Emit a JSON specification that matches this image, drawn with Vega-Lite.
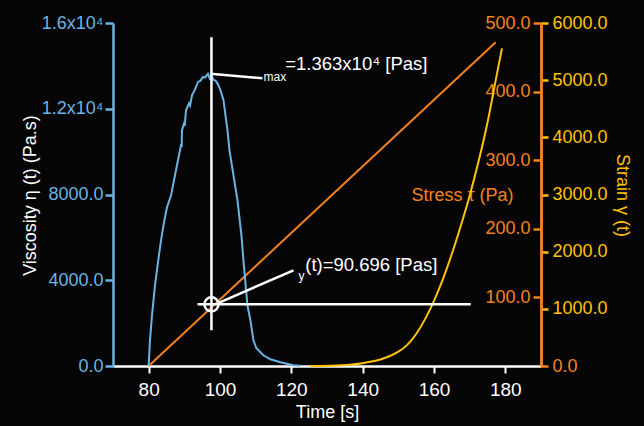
{
  "$schema": "https://vega.github.io/schema/vega-lite/v6.json",
  "width": 428,
  "height": 343,
  "autosize": {"type": "none"},
  "padding": {"left": 113, "top": 23, "right": 103, "bottom": 60},
  "background": "#050505",
  "config": {
    "view": {"stroke": null},
    "font": "Liberation Sans",
    "axis": {"grid": false, "labelFont": "Liberation Sans", "titleFont": "Liberation Sans", "labelFontSize": 18, "titleFontSize": 18, "titleFontWeight": "normal"}
  },
  "encoding": {
    "x": {"field": "t", "type": "quantitative", "scale": {"domain": [70, 190], "nice": false, "zero": false},
      "axis": {"title": "Time [s]", "values": [80, 100, 120, 140, 160, 180], "format": "d", "labelColor": "#ffffff", "tickColor": "#ffffff", "domainColor": "#ffffff", "domainWidth": 2.5, "tickWidth": 2, "tickSize": 7, "labelPadding": 7, "labelFontSize": 19, "titleColor": "#ffffff", "titlePadding": 4}}
  },
  "layer": [
    {
      "data": {"values": [{"t": 80, "s": 0}, {"t": 177.3, "s": 472}]},
      "mark": {"type": "line", "color": "#f5821f", "strokeWidth": 2},
      "encoding": {
        "y": {"field": "s", "type": "quantitative", "scale": {"domain": [0, 500], "nice": false},
          "axis": {"orient": "left", "offset": -428, "title": "Stress τ (Pa)", "values": [100, 200, 300, 400, 500], "format": ".1f", "labelColor": "#f5821f", "tickColor": "#f5821f", "domainColor": "#f5821f", "domainWidth": 2.5, "tickWidth": 2.5, "tickSize": 8, "labelPadding": 3, "titleColor": "#f5821f", "titleAngle": 0, "titleX": -79, "titleY": 172, "titleAlign": "center", "titleBaseline": "middle"}}
      }
    },
    {
      "data": {"values": [
        {"t": 125.2, "g": 0}, {"t": 128, "g": 2}, {"t": 131, "g": 6}, {"t": 134, "g": 14}, {"t": 137, "g": 28},
        {"t": 140, "g": 50}, {"t": 142.5, "g": 78}, {"t": 145, "g": 115}, {"t": 147.5, "g": 170}, {"t": 150, "g": 250},
        {"t": 152.5, "g": 370}, {"t": 155, "g": 560}, {"t": 157.5, "g": 820}, {"t": 160, "g": 1140}, {"t": 162.5, "g": 1520},
        {"t": 165, "g": 1960}, {"t": 167.5, "g": 2450}, {"t": 170, "g": 2980}, {"t": 172.5, "g": 3580}, {"t": 175, "g": 4260},
        {"t": 177, "g": 4900}, {"t": 179.05, "g": 5557}
      ]},
      "mark": {"type": "line", "color": "#ffc20e", "strokeWidth": 2, "interpolate": "monotone"},
      "encoding": {
        "y": {"field": "g", "type": "quantitative", "scale": {"domain": [0, 6000], "nice": false},
          "axis": {"orient": "right", "offset": 0, "title": "Strain γ (t)", "values": [0, 1000, 2000, 3000, 4000, 5000, 6000], "format": ".1f",
            "labelColor": {"condition": {"test": "datum.value == 0", "value": "#f5821f"}, "value": "#ffc20e"},
            "tickColor": {"condition": {"test": "datum.value == 0", "value": "#f5821f"}, "value": "#ffc20e"},
            "domainColor": "#f5821f", "domainWidth": 2.5, "tickWidth": 2.5, "tickSize": 7, "labelPadding": 4, "titleColor": "#ffc20e", "titleAngle": 90, "titleX": 80, "titleY": 172, "titleAlign": "center", "titleBaseline": "middle"}}
      }
    },
    {
      "encoding": {
        "y": {"field": "v", "type": "quantitative", "scale": {"domain": [0, 16000], "nice": false},
          "axis": {"orient": "left", "title": "Viscosity η (t) (Pa.s)", "values": [0, 4000, 8000, 12000, 16000],
            "labelExpr": "datum.value == 16000 ? '1.6x10⁴' : datum.value == 12000 ? '1.2x10⁴' : format(datum.value, '.1f')",
            "labelColor": "#6ab4e4", "tickColor": "#6ab4e4", "domainColor": "#6ab4e4", "domainWidth": 2.5, "tickWidth": 2.5, "tickSize": 8, "labelPadding": 2,
            "titleColor": "#ffffff", "titleAngle": -90, "titleX": -83, "titleY": 172, "titleAlign": "center", "titleBaseline": "middle"}}
      },
      "layer": [
        {
          "data": {"values": [
            {"t": 80.0, "v": 0}, {"t": 80.37, "v": 1199}, {"t": 80.93, "v": 2365}, {"t": 81.77, "v": 3765}, {"t": 82.61, "v": 4838},
            {"t": 83.46, "v": 5864}, {"t": 84.3, "v": 6704}, {"t": 85.14, "v": 7403}, {"t": 86.26, "v": 7950}, {"t": 87.38, "v": 8897},
            {"t": 88.22, "v": 9597}, {"t": 88.78, "v": 10063}, {"t": 89.1, "v": 10350}, {"t": 89.25, "v": 10200}, {"t": 89.34, "v": 10996},
            {"t": 89.9, "v": 11300}, {"t": 90.1, "v": 11200}, {"t": 90.47, "v": 11929}, {"t": 91.3, "v": 12250}, {"t": 91.6, "v": 12150},
            {"t": 92.15, "v": 12628}, {"t": 93.0, "v": 12900}, {"t": 93.83, "v": 13250}, {"t": 94.5, "v": 13300}, {"t": 95.2, "v": 13480},
            {"t": 95.79, "v": 13450}, {"t": 96.63, "v": 13630}, {"t": 97.1, "v": 13420},
            {"t": 97.6, "v": 13560}, {"t": 98.2, "v": 13350}, {"t": 98.8, "v": 13300}, {"t": 99.4, "v": 13150}, {"t": 100.14, "v": 12862},
            {"t": 100.98, "v": 12395}, {"t": 102.1, "v": 10995}, {"t": 102.66, "v": 10062}, {"t": 103.78, "v": 8896}, {"t": 104.9, "v": 7730},
            {"t": 106.01, "v": 6097}, {"t": 106.57, "v": 4930}, {"t": 107.69, "v": 2831}, {"t": 108.53, "v": 2131}, {"t": 109.37, "v": 1199},
            {"t": 110.21, "v": 826}, {"t": 112.17, "v": 499}, {"t": 114.13, "v": 313}, {"t": 116.92, "v": 173}, {"t": 120.56, "v": 33}, {"t": 122.5, "v": 10}
          ]},
          "mark": {"type": "line", "color": "#6ab4e4", "strokeWidth": 2},
          "encoding": {}
        },
        {
          "data": {"values": [
            {"t": 97.6, "v": 1665, "t2": 97.6, "v2": 15334},
            {"t": 93.7, "v": 2878, "t2": 170.3, "v2": 2878},
            {"t": 97.3, "v": 13630, "t2": 111.9, "v2": 13420},
            {"t": 99.3, "v": 2925, "t2": 120.6, "v2": 4464}
          ]},
          "mark": {"type": "rule", "color": "#ffffff", "strokeWidth": 2.5},
          "encoding": {
            "x2": {"field": "t2"},
            "y2": {"field": "v2"}
          }
        },
        {
          "data": {"values": [{"t": 97.6, "v": 2878}]},
          "mark": {"type": "point", "shape": "circle", "filled": false, "size": 200, "stroke": "#ffffff", "strokeWidth": 2.5, "opacity": 1},
          "encoding": {}
        },
        {
          "data": {"values": [
            {"t": 118.3, "v": 14074, "label": "=1.363x10⁴ [Pas]"},
            {"t": 123.9, "v": 4698, "label": "(t)=90.696 [Pas]"}
          ]},
          "mark": {"type": "text", "align": "left", "baseline": "middle", "fontSize": 18.5, "color": "#ffffff"},
          "encoding": {"text": {"field": "label"}}
        },
        {
          "data": {"values": [
            {"t": 112.2, "v": 13468, "label": "max"},
            {"t": 122.0, "v": 4185, "label": "y"}
          ]},
          "mark": {"type": "text", "align": "left", "baseline": "middle", "fontSize": 12, "color": "#ffffff"},
          "encoding": {"text": {"field": "label"}}
        }
      ]
    }
  ],
  "resolve": {"scale": {"y": "independent"}, "axis": {"y": "independent"}}
}
